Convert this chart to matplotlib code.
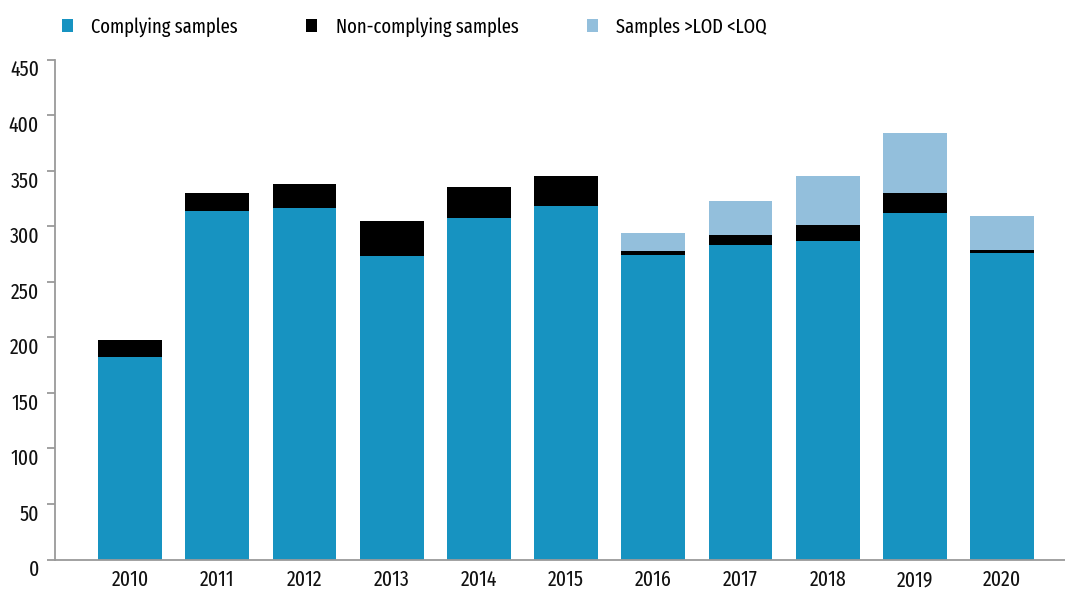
import matplotlib
matplotlib.use("Agg")
import matplotlib.pyplot as plt
from matplotlib.patches import Patch
import numpy as np

plt.rcParams['font.family'] = ['Fira Sans Extra Condensed', 'DejaVu Sans']

years = ["2010", "2011", "2012", "2013", "2014", "2015",
         "2016", "2017", "2018", "2019", "2020"]
complying = [182, 314, 316, 273, 307, 318, 274, 283, 287, 312, 276]
non_complying = [16, 16, 22, 32, 28, 27, 4, 9, 14, 18, 3]
lod_loq = [0, 0, 0, 0, 0, 0, 16, 31, 44, 54, 30]

series_labels = ["Complying samples", "Non-complying samples", "Samples >LOD <LOQ"]
colors = ["#1793C1", "#000000", "#93BFDC"]
yticks = [0, 50, 100, 150, 200, 250, 300, 350, 400, 450]

W, H = 1065, 592
fig = plt.figure(figsize=(W / 100, H / 100), dpi=100)
ax = fig.add_axes([55 / W, (H - 559.5) / H, 1 - 55 / W, 500 / H])

x = np.arange(len(years))
width = 0.73
bottom = np.zeros(len(years))
for vals, col in zip([complying, non_complying, lod_loq], colors):
    vals = np.array(vals, dtype=float)
    ax.bar(x, vals, width, bottom=bottom, color=col, linewidth=0)
    bottom += vals

ax.set_xlim(-0.86, 10.72)
ax.set_ylim(0, 450)
ax.set_xticks(x)
ax.set_xticklabels(years)
ax.set_yticks(yticks)
ax.set_yticklabels([str(v) for v in yticks])

axis_col = "#9a9a9a"
for side in ["top", "right"]:
    ax.spines[side].set_visible(False)
for side in ["left", "bottom"]:
    ax.spines[side].set_color(axis_col)
    ax.spines[side].set_linewidth(1.3)

ax.tick_params(axis="x", length=0, pad=7, labelsize=15.5, labelcolor="#111111")
ax.tick_params(axis="y", length=6, width=1.3, color=axis_col, pad=5.5,
               labelsize=15.5, labelcolor="#111111")
for lbl in ax.get_yticklabels():
    lbl.set_verticalalignment("top")

handles = [Patch(facecolor=c, edgecolor="none") for c in colors]
fig.legend(handles, series_labels, loc="center left",
           bbox_to_anchor=(62 / W, 1 - 27 / H), ncol=3, frameon=False,
           fontsize=14.5, handlelength=0.55, handleheight=0.55,
           handletextpad=0.9, columnspacing=3.4, borderaxespad=0,
           borderpad=0)

fig.savefig("out.png", dpi=100)
